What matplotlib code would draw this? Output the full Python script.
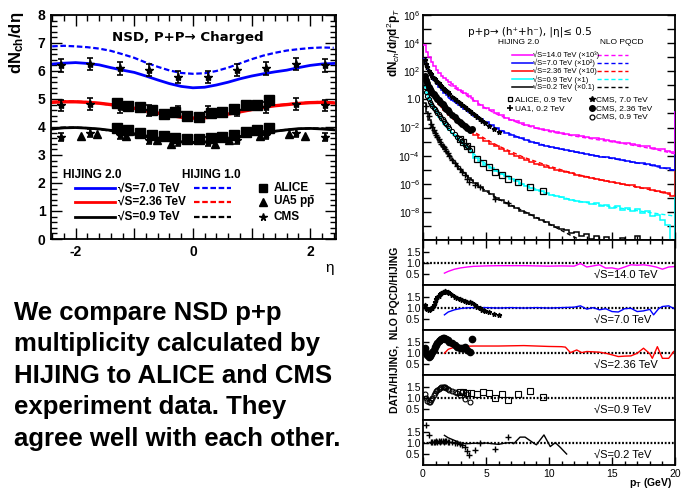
import numpy as np
import matplotlib
matplotlib.use('Agg')
import matplotlib.pyplot as plt
from matplotlib.ticker import FixedLocator, MultipleLocator, FixedFormatter, NullFormatter

plt.rcParams['font.family'] = ['Liberation Sans', 'DejaVu Sans']
plt.rcParams['mathtext.fontset'] = 'custom'
plt.rcParams['mathtext.rm'] = 'Liberation Sans'
plt.rcParams['mathtext.it'] = 'Liberation Sans:italic'
plt.rcParams['mathtext.bf'] = 'Liberation Sans:bold'
plt.rcParams['xtick.direction'] = 'in'
plt.rcParams['ytick.direction'] = 'in'

# ---------------- left panel: dN/deta ----------------
eta = [-2.4, -2.2, -2.0, -1.8, -1.6, -1.4, -1.2, -1.0, -0.8, -0.6, -0.4, -0.2, 0.0,
       0.2, 0.4, 0.6, 0.8, 1.0, 1.2, 1.4, 1.6, 1.8, 2.0, 2.2, 2.4]
h20_7000 = [6.25, 6.28, 6.3, 6.27, 6.22, 6.12, 6.03, 5.95, 5.82, 5.68, 5.55, 5.45, 5.4,
            5.42, 5.5, 5.6, 5.72, 5.82, 5.9, 5.97, 6.03, 6.12, 6.2, 6.25, 6.27]
h10_7000 = [6.88, 6.9, 6.88, 6.85, 6.8, 6.72, 6.6, 6.47, 6.3, 6.15, 6.02, 5.93, 5.9,
            5.92, 6.0, 6.12, 6.27, 6.42, 6.55, 6.65, 6.73, 6.78, 6.82, 6.84, 6.83]
h20_2360 = [4.88, 4.9, 4.9, 4.88, 4.85, 4.8, 4.74, 4.67, 4.58, 4.5, 4.42, 4.35, 4.32,
            4.33, 4.38, 4.46, 4.54, 4.62, 4.7, 4.76, 4.8, 4.84, 4.87, 4.88, 4.86]
h10_2360 = [4.9, 4.92, 4.91, 4.89, 4.85, 4.79, 4.72, 4.65, 4.57, 4.49, 4.41, 4.35, 4.31,
            4.33, 4.39, 4.47, 4.55, 4.63, 4.71, 4.77, 4.81, 4.85, 4.88, 4.9, 4.88]
h20_900 = [3.93, 3.97, 3.98, 3.96, 3.93, 3.88, 3.82, 3.76, 3.68, 3.6, 3.53, 3.47, 3.45,
           3.46, 3.52, 3.58, 3.66, 3.73, 3.8, 3.85, 3.9, 3.94, 3.95, 3.93, 3.9]
h10_900 = [3.95, 3.98, 3.98, 3.96, 3.92, 3.87, 3.8, 3.73, 3.65, 3.57, 3.5, 3.45, 3.43,
           3.45, 3.5, 3.56, 3.64, 3.72, 3.79, 3.85, 3.9, 3.93, 3.95, 3.95, 3.92]

cms_eta = [-2.25, -1.75, -1.25, -0.75, -0.25, 0.25, 0.75, 1.25, 1.75, 2.25]
cms_7000 = [6.2, 6.25, 6.09, 6.03, 5.79, 5.79, 6.03, 6.09, 6.25, 6.2]
cms_2360 = [4.78, 4.82, 4.7, 4.6, 4.55, 4.55, 4.6, 4.7, 4.82, 4.78]
cms_900 = [3.65, 3.79, 3.71, 3.53, 3.48, 3.48, 3.53, 3.71, 3.79, 3.65]
cms_err = [0.22, 0.2, 0.15]

alice_eta = [-1.3, -1.1, -0.9, -0.7, -0.5, -0.3, -0.1, 0.1, 0.3, 0.5, 0.7, 0.9, 1.1, 1.3]
alice_2360 = [4.84, 4.75, 4.72, 4.6, 4.45, 4.52, 4.4, 4.37, 4.51, 4.54, 4.66, 4.78, 4.78, 4.96]
alice_900 = [3.95, 3.89, 3.77, 3.71, 3.68, 3.6, 3.56, 3.58, 3.62, 3.65, 3.72, 3.82, 3.9, 3.98]

ua5_eta = [-1.91, -1.64, -1.14, -0.62, -0.38, 0.37, 0.62, 1.14, 1.64, 1.91]
ua5_900 = [3.68, 3.74, 3.68, 3.52, 3.39, 3.39, 3.52, 3.68, 3.74, 3.68]

# ---------------- right panel: pT spectra (log10 values per bin) ----------------
pt_edges = np.concatenate([np.arange(0.0, 4.0, 0.2), np.arange(4.0, 20.01, 0.4), [20.4]])
overflow = -0.9
spec_14000 = [3.85, 3.4, 3.0, 2.65, 2.35, 2.1, 1.88, 1.67, 1.5, 1.35, 1.22, 1.08, 0.95, 0.83, 0.7,
              0.58, 0.46, 0.35, 0.24, 0.12,
              -0.15, -0.37, -0.58, -0.78, -0.97, -1.14, -1.3, -1.44, -1.57, -1.7, -1.8, -1.9, -2.0,
              -2.08, -2.17, -2.25, -2.3, -2.38, -2.44, -2.52, -2.55, -2.62, -2.66, -2.72, -2.74, -2.85,
              -2.86, -2.97, -3.0, -3.08, -3.1, -3.2, -3.22, -3.3, -3.33, -3.45, -3.5, -3.55, -3.68, -3.75,
              overflow]
spec_7000 = [2.85, 2.4, 2.02, 1.68, 1.38, 1.12, 0.88, 0.66, 0.47, 0.3, 0.14, -0.01, -0.15, -0.28, -0.41,
             -0.54, -0.66, -0.78, -0.9, -1.02,
             -1.18, -1.42, -1.64, -1.85, -2.04, -2.22, -2.38, -2.52, -2.66, -2.78, -2.9, -3.02, -3.12,
             -3.22, -3.32, -3.4, -3.48, -3.56, -3.63, -3.7, -3.76, -3.83, -3.88, -3.95, -4.0, -4.08,
             -4.12, -4.2, -4.24, -4.3, -4.38, -4.42, -4.5, -4.55, -4.62, -4.7, -4.74, -4.85, -4.9, -5.05,
             overflow]
spec_2360 = [1.72, 1.28, 0.9, 0.55, 0.24, -0.05, -0.3, -0.53, -0.74, -0.93, -1.1, -1.26, -1.41, -1.56,
             -1.7, -1.83, -1.96, -2.09, -2.21, -2.33,
             -2.5, -2.73, -2.95, -3.15, -3.34, -3.52, -3.68, -3.87, -4.02, -4.16, -4.3, -4.43, -4.56,
             -4.68, -4.8, -4.9, -5.0, -5.1, -5.18, -5.27, -5.35, -5.44, -5.5, -5.58, -5.64, -5.74,
             -5.8, -5.88, -5.94, -6.0, -6.08, -6.12, -6.22, -6.27, -6.33, -6.45, -6.48, -6.6, -6.68, -6.85,
             overflow]
spec_900 = [0.9, 0.42, 0.0, -0.38, -0.7, -1.0, -1.28, -1.53, -1.76, -1.97, -2.17, -2.36, -2.54, -2.72,
            -2.89, -3.05, -3.21, -3.37, -3.52, -3.75,
            -4.15, -4.4, -4.64, -4.87, -5.1, -5.3, -5.48, -5.66, -5.83, -5.99, -6.14, -6.28, -6.42,
            -6.55, -6.67, -6.78, -6.88, -6.96, -7.06, -7.13, -7.22, -7.28, -7.33, -7.42, -7.38, -7.55,
            -7.48, -7.7, -7.6, -7.85, -7.7, -7.95, -7.82, -8.1, -7.95, -8.3, -8.2, -8.6, -8.9, -11.0,
            overflow]
spec_200 = [-0.25, -0.9, -1.45, -1.9, -2.3, -2.65, -2.96, -3.25, -3.5, -3.74, -4.05, -4.3, -4.52, -4.72,
            -4.92, -5.1, -5.27, -5.43, -5.58, -5.72,
            -5.95, -6.25, -6.52, -6.76, -6.98, -7.18, -7.38, -7.58, -7.75, -7.92, -8.08, -8.25, -8.42,
            -8.56, -8.72, -8.9, -9.05, -9.2, -9.3, -9.5, -9.4, -9.75, -9.6, -9.9, -9.7, -12.0,
            -9.8, -12.0, -12.0, -9.85, -12.0, -12.0, -9.75, -12.0, -12.0, -12.0, -12.0, -12.0, -12.0, -12.0,
            -12.0]

nlo_pt = [2, 3, 4, 5, 6, 8, 10, 12, 14, 16, 18, 20]
nlo_14000 = [1.08, 0.54, -0.05, -0.65, -1.12, -1.82, -2.29, -2.61, -2.89, -3.16, -3.48, -3.87]
nlo_7000 = [0.12, -0.5, -1.06, -1.64, -2.13, -2.84, -3.36, -3.73, -4.05, -4.36, -4.68, -5.05]
nlo_2360 = [-0.94, -1.67, -2.28, -2.84, -3.32, -4.12, -4.74, -5.29, -5.7, -6.06, -6.42, -6.85]
nlo_900 = [-2.07, -2.97, -3.85, -4.6, -5.18, -6.07, -6.73, -7.18, -7.5, -7.78, -8.05, -8.3]
nlo_200 = [-3.78, -5.03, -5.82, -6.52, -7.1, -7.95, -8.85, -9.8, -10.5, -11.2, -11.9, -12.5]

# data points in the spectrum panel (log10)
cms_pt = [0.15, 0.25, 0.35, 0.45, 0.55, 0.65, 0.75, 0.85, 0.95, 1.05, 1.15, 1.25, 1.35, 1.45, 1.55,
          1.65, 1.75, 1.85, 1.95, 2.1, 2.3, 2.5, 2.7, 2.9, 3.1, 3.3, 3.5, 3.7, 3.9, 4.1, 4.3, 4.5,
          4.7, 4.9, 5.2, 5.6, 6.0]
cms7_spec = [2.79, 2.5, 2.27, 2.05, 1.91, 1.77, 1.6, 1.49, 1.42, 1.32, 1.23, 1.13, 1.02, 0.93, 0.84,
             0.76, 0.67, 0.58, 0.49, 0.36, 0.19, 0.03, -0.12, -0.27, -0.42, -0.55, -0.68, -0.81, -0.94,
             -1.08, -1.22, -1.37, -1.52, -1.66, -1.86, -2.1, -2.3]
cms7_ratio = [1.12, 1.0, 0.93, 0.9, 0.93, 0.96, 1.0, 1.1, 1.25, 1.38, 1.47, 1.55, 1.6, 1.65, 1.69,
              1.72, 1.74, 1.72, 1.69, 1.65, 1.58, 1.5, 1.44, 1.38, 1.33, 1.29, 1.26, 1.24, 1.2, 1.14,
              1.05, 0.97, 0.9, 0.84, 0.78, 0.71, 0.67]
cms236_pt = [0.15, 0.25, 0.35, 0.45, 0.55, 0.65, 0.75, 0.85, 0.95, 1.05, 1.15, 1.25, 1.35, 1.45, 1.55,
             1.65, 1.75, 1.85, 1.95, 2.1, 2.3, 2.5, 2.7, 2.9, 3.1, 3.3, 3.5, 3.7, 3.9]
cms236_spec = [1.69, 1.39, 1.13, 0.9, 0.74, 0.6, 0.48, 0.37, 0.26, 0.15, 0.05, -0.06, -0.16, -0.26,
               -0.36, -0.47, -0.58, -0.68, -0.77, -0.92, -1.1, -1.28, -1.46, -1.62, -1.74, -1.86, -2.04,
               -2.19, -2.13]
cms236_ratio = [1.2, 1.0, 0.87, 0.82, 0.85, 0.92, 1.02, 1.12, 1.24, 1.35, 1.44, 1.52, 1.57, 1.62, 1.65,
                1.65, 1.63, 1.6, 1.57, 1.5, 1.43, 1.35, 1.27, 1.2, 1.22, 1.25, 1.12, 1.05, 1.6]
cms09_pt = [0.15, 0.25, 0.35, 0.45, 0.55, 0.65, 0.75, 0.85, 0.95, 1.05, 1.15, 1.25, 1.35, 1.45, 1.55,
            1.65, 1.75, 1.85, 1.95, 2.1, 2.3, 2.5, 2.7, 2.9, 3.1, 3.3, 3.5, 3.7]
cms09_spec = [0.85, 0.52, 0.25, 0.0, -0.19, -0.34, -0.46, -0.58, -0.7, -0.81, -0.94, -1.06, -1.18, -1.3,
              -1.41, -1.53, -1.65, -1.76, -1.87, -2.04, -2.25, -2.44, -2.64, -2.85, -2.95, -3.23, -3.31,
              -3.61]
cms09_ratio = [1.17, 0.97, 0.85, 0.8, 0.82, 0.9, 1.0, 1.1, 1.2, 1.28, 1.35, 1.4, 1.44, 1.47, 1.5,
               1.49, 1.47, 1.44, 1.4, 1.35, 1.3, 1.27, 1.2, 1.1, 1.25, 0.95, 1.15, 0.82]
alice_pt = [2.9, 3.2, 3.5, 3.8, 4.25, 4.75, 5.25, 5.75, 6.25, 6.75, 7.5, 8.5, 9.5]
alice_spec = [-2.8, -3.0, -3.3, -3.55, -4.25, -4.52, -4.82, -5.15, -5.35, -5.66, -5.9, -6.24, -6.54]
alice_ratio = [1.25, 1.27, 1.2, 1.22, 1.17, 1.27, 1.2, 0.97, 1.17, 0.88, 1.17, 1.29, 1.05]
ua1_pt = [0.25, 0.45, 0.65, 0.75, 0.85, 0.95, 1.05, 1.15, 1.25, 1.35, 1.45, 1.55, 1.65, 1.75, 1.85,
          1.95, 2.1, 2.3, 2.5, 2.7, 2.9, 3.1, 3.3, 3.5, 3.65, 4.1, 4.5, 5.75, 6.75]
ua1_spec = [-0.48, -1.2, -1.77, -1.99, -2.18, -2.38, -2.53, -2.71, -2.85, -3.01, -3.15, -3.28, -3.42,
            -3.53, -3.65, -3.78, -4.03, -4.29, -4.52, -4.73, -4.95, -5.15, -5.38, -5.64, -5.9, -6.09,
            -6.23, -7.1, -7.35]
ua1_ratio = [1.82, 1.33, 1.05, 1.02, 1.05, 1.03, 1.08, 1.05, 1.07, 1.05, 1.08, 1.06, 1.05, 1.08, 1.07,
             1.05, 1.05, 1.02, 1.0, 0.97, 0.93, 0.9, 0.78, 0.62, 0.45, 0.65, 0.97, 0.7, 1.25]

# NLO pQCD / HIJING ratio curves
r14_pt = [1.7, 2.0, 2.5, 3.0, 3.5, 4, 5, 6, 7, 8, 9, 10, 11, 12, 12.5, 13, 13.5, 14, 14.5, 15, 15.5,
          16, 16.5, 17, 17.5, 18, 18.5, 19, 19.5, 20]
r14 = [0.52, 0.6, 0.7, 0.76, 0.8, 0.83, 0.85, 0.86, 0.86, 0.86, 0.85, 0.84, 0.85, 0.84, 0.96, 0.8,
       0.85, 0.9, 0.75, 0.76, 0.7, 0.8, 0.9, 0.88, 0.9, 0.86, 0.8, 0.7, 0.8, 0.82]
r7_pt = [1.7, 2.0, 2.5, 3.0, 3.5, 4, 5, 6, 7, 8, 9, 10, 11, 12, 12.5, 13, 13.5, 14, 14.5, 15, 15.5,
         16, 16.5, 17, 17.5, 18, 18.3, 18.7, 19, 19.5, 20]
r7 = [0.67, 0.8, 0.9, 0.96, 0.99, 1.0, 1.0, 0.98, 1.0, 0.98, 1.0, 0.98, 1.0, 1.02, 1.08, 0.93, 1.0,
      0.9, 0.95, 0.82, 0.8, 0.95, 0.97, 0.82, 0.85, 0.92, 0.67, 0.95, 1.05, 1.08, 0.93]
r236_pt = [1.7, 2.0, 2.5, 3, 4, 5, 6, 7, 8, 9, 10, 11, 11.3, 11.7, 12.2, 12.6, 13, 14, 14.5, 15, 15.5,
           16, 16.5, 17, 17.5, 18, 18.2, 18.6, 19, 19.5, 19.9]
r236 = [0.97, 1.15, 1.25, 1.28, 1.3, 1.3, 1.3, 1.31, 1.32, 1.3, 1.28, 1.27, 1.25, 1.0, 1.12, 1.0, 1.05,
        1.02, 0.97, 0.9, 0.82, 0.84, 0.85, 0.97, 1.2, 0.95, 0.74, 1.27, 0.74, 0.74, 1.05]
r02_pt = [1.7, 2.0, 2.5, 3.0, 3.5, 4, 5, 6, 6.5, 7, 7.2, 7.7, 8.1, 8.8, 9.0, 9.6, 10.1, 10.5, 10.9, 11.4]
r02 = [1.33, 1.22, 1.1, 0.98, 0.95, 0.97, 0.98, 0.92, 0.98, 1.0, 0.95, 1.25, 1.25, 0.97, 0.9, 1.35,
       0.82, 1.0, 0.78, 0.48]

W, H = 683, 492
fig = plt.figure(figsize=(W / 100, H / 100), dpi=100)


def px_axes(x0, y0, x1, y1):
    return fig.add_axes([x0 / W, 1 - y1 / H, (x1 - x0) / W, (y1 - y0) / H])


BLUE, RED, MAG, CYAN = '#0000ff', '#ff0000', '#ff00ff', '#00ffff'
DASH = (0, (2.5, 1.2))

# ---------- left axes ----------
ax = px_axes(51, 15, 336, 239)
ax.plot(eta, h10_7000, color=BLUE, ls=DASH, lw=1.6)
ax.plot(eta, h20_7000, color=BLUE, lw=2)
ax.plot(eta, h10_2360, color=RED, ls=DASH, lw=1.6)
ax.plot(eta, h20_2360, color=RED, lw=2.4)
ax.plot(eta, h10_900, color='black', ls=DASH, lw=1.6)
ax.plot(eta, h20_900, color='black', lw=2)
ax.plot(alice_eta, alice_2360, 's', color='black', ms=7)
ax.plot(alice_eta, alice_900, 's', color='black', ms=7)
ax.plot(ua5_eta, ua5_900, '^', color='black', ms=5.5)
for vals, err in zip([cms_7000, cms_2360, cms_900], cms_err):
    ax.errorbar(cms_eta, vals, yerr=err, fmt='*', color='black', ms=6, elinewidth=1.2,
                capsize=2.5, capthick=1.2)
ax.set_xlim(-2.42, 2.44)
ax.set_ylim(0, 8)
ax.xaxis.set_major_locator(FixedLocator([-2, -1, 0, 1, 2]))
ax.xaxis.set_major_formatter(FixedFormatter(['-2', '', '0', '', '2']))
ax.xaxis.set_minor_locator(MultipleLocator(0.2))
ax.yaxis.set_major_locator(MultipleLocator(1))
ax.yaxis.set_minor_locator(MultipleLocator(0.2))
ax.tick_params(which='both', top=True, right=True, width=1)
ax.tick_params(which='major', length=8, labelsize=10, pad=4)
ax.tick_params(which='minor', length=4)
for lab in ax.get_xticklabels() + ax.get_yticklabels():
    lab.set_fontweight('bold')
for s in ax.spines.values():
    s.set_linewidth(1.3)

ax.text(0.48, 0.90, 'NSD, P+P→ Charged', transform=ax.transAxes, ha='center',
        va='center', fontsize=9.6, fontweight='bold', family=['DejaVu Sans'])
ax.text(0.043, 0.285, 'HIJING 2.0', transform=ax.transAxes, fontsize=8.5, fontweight='bold', va='center')
ax.text(0.46, 0.285, 'HIJING 1.0', transform=ax.transAxes, fontsize=8.5, fontweight='bold', va='center')
rows = [0.226, 0.165, 0.099]
for y, c, lab in zip(rows, [BLUE, RED, 'black'], ['√S=7.0 TeV', '√S=2.36 TeV', '√S=0.9 TeV']):
    ax.plot([0.085, 0.225], [y, y], color=c, lw=2, transform=ax.transAxes)
    ax.plot([0.5, 0.63], [y, y], color=c, lw=1.6, ls=DASH, transform=ax.transAxes)
    ax.text(0.236, y, lab, transform=ax.transAxes, fontsize=8.5, fontweight='bold', va='center')
for y, m, ms, lab in zip(rows, ['s', '^', '*'], [5.5, 5.5, 5.5],
                         ['ALICE', r'UA5 p$\mathbf{\bar{p}}$', 'CMS']):
    ax.plot([0.745], [y], m, color='black', ms=ms, transform=ax.transAxes)
    ax.text(0.78, y, lab, transform=ax.transAxes, fontsize=8.5, fontweight='bold', va='center')

fig.text(16 / W, 1 - 12 / H, r'dN$_{\mathbf{ch}}$/d$\mathbf{\eta}$', rotation=90, ha='center', va='top',
         fontsize=12, fontweight='bold')
fig.text(330 / W, 1 - 268 / H, 'η', ha='center', va='center', fontsize=11)

fig.text(14 / W, 1 - 301 / H,
         'We compare NSD p+p\nmultiplicity calculated by\nHIJING to ALICE and CMS\n'
         'experiment data. They\nagree well with each other.',
         ha='left', va='top', fontsize=18.5, fontweight='bold', linespacing=1.39)

# ---------- right top axes: spectra ----------
at = px_axes(423, 15, 675, 240)
at.set_yscale('log')
for vals, c in [(spec_200, 'black'), (spec_900, CYAN), (spec_2360, RED), (spec_7000, BLUE),
                (spec_14000, MAG)]:
    at.stairs(10 ** np.array(vals), pt_edges, color=c, lw=1.1, baseline=None, zorder=3)
for vals, c in [(nlo_200, 'black'), (nlo_900, CYAN), (nlo_2360, RED), (nlo_7000, BLUE),
                (nlo_14000, MAG)]:
    at.plot(nlo_pt, 10 ** np.array(vals), color=c, lw=1, ls=(0, (3, 2)), zorder=3)
at.plot(cms_pt, 10 ** np.array(cms7_spec), '*', color='black', ms=3.5, zorder=4)
at.plot(cms236_pt, 10 ** np.array(cms236_spec), 'o', color='black', ms=4, zorder=4)
at.plot(cms09_pt, 10 ** np.array(cms09_spec), 'o', mfc='none', mec='black', mew=0.8, ms=3, zorder=4)
at.plot(alice_pt, 10 ** np.array(alice_spec), 's', mfc='none', mec='black', mew=0.9, ms=4, zorder=4)
at.plot(ua1_pt, 10 ** np.array(ua1_spec), '+', color='black', ms=4.5, mew=1, zorder=4)
at.set_xlim(0, 20)
at.set_ylim(1e-10, 1e6)
dec = list(range(-10, 7))
at.yaxis.set_major_locator(FixedLocator([10.0 ** k for k in dec]))
labs = []
for k in dec:
    if k == 0:
        labs.append('1.0')
    elif k % 2 == 0 and k > -10:
        labs.append(r'$10^{%d}$' % k)
    else:
        labs.append('')
at.yaxis.set_major_formatter(FixedFormatter(labs))
at.yaxis.set_minor_locator(FixedLocator([]))
at.xaxis.set_major_locator(MultipleLocator(5))
at.xaxis.set_minor_locator(MultipleLocator(1))
at.xaxis.set_major_formatter(NullFormatter())
at.tick_params(which='both', right=True, width=1)
at.tick_params(which='major', length=6, labelsize=7.5, pad=2)
at.tick_params(which='minor', length=3)
for s in at.spines.values():
    s.set_linewidth(1.3)

at.text(0.179, 0.924, 'p+p→ (h⁺+h⁻), |η|≤ 0.5', transform=at.transAxes,
        fontsize=7.5, va='center', family=['DejaVu Sans'])
at.text(0.298, 0.876, 'HIJING 2.0', transform=at.transAxes, fontsize=6, va='center')
at.text(0.702, 0.876, 'NLO PQCD', transform=at.transAxes, fontsize=6, va='center')
srows = [0.824, 0.788, 0.751, 0.714, 0.679]
slabs = ['√S=14.0 TeV (×10³)', '√S=7.0 TeV (×10²)', '√S=2.36 TeV (×10)',
         '√S=0.9 TeV (×1)', '√S=0.2 TeV (×0.1)']
for y, c, lab in zip(srows, [MAG, BLUE, RED, CYAN, 'black'], slabs):
    at.plot([0.353, 0.437], [y, y], color=c, lw=1.1, transform=at.transAxes)
    at.plot([0.69, 0.813], [y, y], color=c, lw=1, ls=(0, (3, 2)), transform=at.transAxes)
    at.text(0.437, y, lab, transform=at.transAxes, fontsize=5.5, va='center')
at.plot([0.345], [0.625], 's', mfc='none', mec='black', mew=0.9, ms=3.5, transform=at.transAxes)
at.text(0.365, 0.625, 'ALICE, 0.9 TeV', transform=at.transAxes, fontsize=6, va='center')
at.plot([0.345], [0.585], '+', color='black', ms=4.5, mew=1.2, transform=at.transAxes)
at.text(0.365, 0.585, 'UA1, 0.2 TeV', transform=at.transAxes, fontsize=6, va='center')
at.plot([0.671], [0.625], '*', color='black', ms=4, transform=at.transAxes)
at.text(0.687, 0.625, 'CMS, 7.0 TeV', transform=at.transAxes, fontsize=6, va='center')
at.plot([0.671], [0.585], 'o', color='black', ms=4, transform=at.transAxes)
at.text(0.687, 0.585, 'CMS, 2.36 TeV', transform=at.transAxes, fontsize=6, va='center')
at.plot([0.671], [0.547], 'o', mfc='none', mec='black', mew=0.9, ms=3.5, transform=at.transAxes)
at.text(0.687, 0.547, 'CMS, 0.9 TeV', transform=at.transAxes, fontsize=6, va='center')

fig.text(394 / W, 1 - 8 / H, r'dN$_{ch}$/d$\eta$d$^{2}$p$_{T}$', rotation=90, ha='center', va='top',
         fontsize=8.5, fontweight='bold')

# ---------- ratio panels ----------
panels = [
    ('√S=14.0 TeV', [], [(r14_pt, r14, MAG)]),
    ('√S=7.0 TeV', [(cms_pt, cms7_ratio, dict(marker='*', color='black', ms=3.5))],
     [(r7_pt, r7, BLUE)]),
    ('√S=2.36 TeV', [(cms236_pt, cms236_ratio, dict(marker='o', color='black', ms=4.5))],
     [(r236_pt, r236, RED)]),
    ('√S=0.9 TeV', [(cms09_pt, cms09_ratio, dict(marker='o', mfc='none', mec='black', mew=0.8, ms=3.5)),
                    (alice_pt, alice_ratio, dict(marker='s', mfc='none', mec='black', mew=0.8, ms=4))],
     []),
    ('√S=0.2 TeV', [(ua1_pt, ua1_ratio, dict(marker='+', color='black', ms=5, mew=1))],
     [(r02_pt, r02, 'black')]),
]
for i, (title, pts, lines) in enumerate(panels):
    ar = px_axes(423, 240 + 45 * i, 675, 285 + 45 * i)
    ar.axhline(1.0, color='black', lw=1.6, ls=(0, (0.8, 0.8)), zorder=1)
    for x, y, c in lines:
        ar.plot(x, y, color=c, lw=1, zorder=2)
    for x, y, kw in pts:
        ar.plot(x, y, ls='none', zorder=3, **kw)
    ar.text(13.6, 0.45, title, fontsize=8, va='center')
    ar.set_xlim(0, 20)
    ar.set_ylim(-0.02, 2.03)
    ar.yaxis.set_major_locator(FixedLocator([0.5, 1.0, 1.5]))
    ar.yaxis.set_major_formatter(FixedFormatter(['0.5', '1.0', '1.5']))
    ar.tick_params(axis='y', which='major', length=4, labelsize=7.5, pad=2, width=1)
    ar.xaxis.set_major_locator(MultipleLocator(5))
    ar.xaxis.set_minor_locator(MultipleLocator(1))
    if i == 4:
        ar.tick_params(axis='x', which='major', length=6, labelsize=7.5, pad=3, width=1)
        ar.tick_params(axis='x', which='minor', length=3, width=1)
    elif i == 0:
        ar.tick_params(axis='x', which='both', bottom=False, top=True, labelbottom=False, width=1)
        ar.tick_params(axis='x', which='major', length=6)
        ar.tick_params(axis='x', which='minor', length=3)
    else:
        ar.tick_params(axis='x', which='both', bottom=False, labelbottom=False)
    for s in ar.spines.values():
        s.set_linewidth(1.3)

fig.text(395 / W, 1 - 330 / H, 'DATA/HIJING,  NLO PQCD/HIJING', rotation=90, ha='center',
         va='center', fontsize=7.5, fontweight='bold')
fig.text(672 / W, 1 - 483 / H, r'p$_{\mathbf{T}}$ (GeV)', ha='right', va='center', fontsize=7.5,
         fontweight='bold')

fig.savefig('out.png', dpi=100)
